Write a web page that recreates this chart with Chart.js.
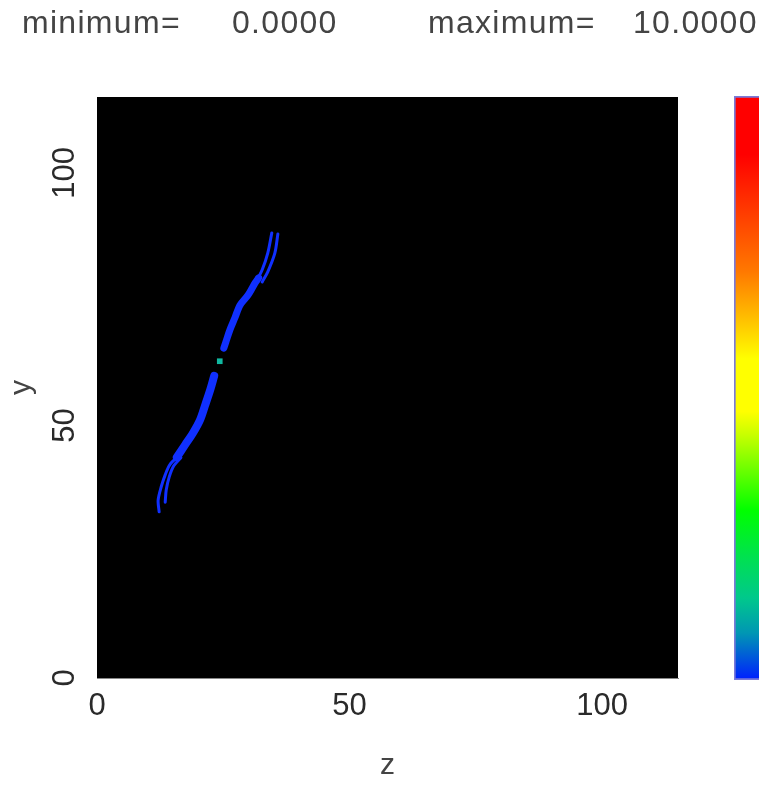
<!DOCTYPE html>
<html lang="en">
<head>
    <meta charset="UTF-8">
    <title>minimum / maximum map</title>
    <script src="https://cdn.jsdelivr.net/npm/chart.js"></script>
    <style>
        body {
            margin: 0;
            background: white;
            font-family: "Liberation Sans", Arial, sans-serif;
        }
        #wrap {
            position: relative;
            width: 759px;
            height: 786px;
            overflow: hidden;
        }
        .head {
            position: absolute;
            top: 4px;
            font-size: 32px;
            letter-spacing: 1.3px;
            color: #444;
            white-space: pre;
        }
        #barWrap {
            position: absolute;
            left: 734px;
            top: 96px;
        }
    </style>
</head>
<body>
<div id="wrap">
    <span class="head" id="minLabel" style="left:22px">minimum=</span>
    <span class="head" id="minValue" style="left:232px"></span>
    <span class="head" id="maxLabel" style="left:428px">maximum=</span>
    <span class="head" id="maxValue" style="left:633px"></span>
    <canvas id="mapChart" width="759" height="786"></canvas>
    <div id="barWrap"><canvas id="colorBar" width="40" height="584"></canvas></div>
</div>

<script>
    // axis range and ticks
    const axisMin = 0;
    const axisMax = 115;
    const tickStep = 50;
    const colorMin = 0;
    const colorMax = 10;

    // upper split strands (z, y)
    const upperLeftZ = [34.6, 33.8, 32.7, 31.7];
    const upperLeftY = [88.1, 84.1, 80.8, 78.8];
    const upperRightZ = [35.8, 35.2, 33.8, 32.7];
    const upperRightY = [87.9, 84.1, 80.4, 78.4];

    // upper thick band
    const upperBandZ = [32.0, 31.3, 29.9, 28.3, 27.3, 26.3, 25.5, 25.1];
    const upperBandY = [79.2, 78.2, 75.8, 73.8, 71.3, 68.9, 66.5, 65.3];

    // hot spot in the middle
    const coreZ = [24.3];
    const coreY = [62.7];

    // lower thick band
    const lowerBandZ = [23.2, 22.4, 21.4, 20.4, 19.0, 17.4, 15.8];
    const lowerBandY = [59.8, 57.0, 54.0, 51.1, 48.5, 46.1, 43.7];

    // lower split strands
    const lowerOuterZ = [16.2, 14.4, 13.5, 12.7, 12.1, 12.3];
    const lowerOuterY = [44.0, 42.2, 40.2, 37.8, 35.2, 32.9];
    const lowerInnerZ = [16.6, 15.2, 14.3, 13.7, 13.5];
    const lowerInnerY = [43.6, 42.0, 39.8, 37.2, 34.8];

    const blue = '#1030ff';
    const tickFont = { family: '"Liberation Sans", Arial, sans-serif', size: 31 };
    const titleFont = { family: '"Liberation Sans", Arial, sans-serif', size: 30 };

    document.getElementById('minValue').textContent = colorMin.toFixed(4);
    document.getElementById('maxValue').textContent = colorMax.toFixed(4);

    function toPoints(zs, ys) {
        return zs.map((z, i) => ({ x: z, y: ys[i] }));
    }

    function curve(zs, ys, width) {
        return {
            data: toPoints(zs, ys),
            showLine: true,
            borderColor: blue,
            borderWidth: width,
            borderCapStyle: 'round',
            borderJoinStyle: 'round',
            tension: 0.3,
            pointRadius: 0
        };
    }

    // black plot background
    const blackArea = {
        id: 'blackArea',
        beforeDatasetsDraw(chart) {
            const { ctx, chartArea } = chart;
            ctx.save();
            ctx.fillStyle = 'black';
            ctx.fillRect(chartArea.left, chartArea.top, chartArea.right - chartArea.left, chartArea.bottom - chartArea.top);
            ctx.restore();
        }
    };

    new Chart(document.getElementById('mapChart'), {
        type: 'scatter',
        data: {
            datasets: [
                curve(upperLeftZ, upperLeftY, 3),
                curve(upperRightZ, upperRightY, 3),
                curve(upperBandZ, upperBandY, 7),
                curve(lowerBandZ, lowerBandY, 8),
                curve(lowerOuterZ, lowerOuterY, 3),
                curve(lowerInnerZ, lowerInnerY, 3),
                {
                    data: toPoints(coreZ, coreY),
                    pointStyle: 'rect',
                    pointRadius: 4,
                    backgroundColor: '#10b8a0',
                    borderWidth: 0
                },
                {
                    data: toPoints(coreZ, coreY),
                    pointStyle: 'rect',
                    pointRadius: 2.2,
                    backgroundColor: '#f0b000',
                    borderWidth: 0
                }
            ]
        },
        options: {
            responsive: false,
            animation: false,
            layout: { padding: { top: 97, right: 81, left: 0, bottom: 0 } },
            plugins: {
                legend: { display: false },
                tooltip: { enabled: false }
            },
            scales: {
                x: {
                    min: axisMin,
                    max: axisMax,
                    grid: { display: false, drawTicks: false },
                    border: { display: true, color: '#888' },
                    ticks: {
                        stepSize: tickStep,
                        includeBounds: false,
                        font: tickFont,
                        color: '#2a2a2a',
                        padding: 10,
                        maxRotation: 0
                    },
                    title: { display: true, text: 'z', font: titleFont, color: '#444', padding: { top: 0, bottom: 2 } },
                    afterFit: s => { s.height = 108; }
                },
                y: {
                    min: axisMin,
                    max: axisMax,
                    grid: { display: false, drawTicks: false },
                    border: { display: false },
                    ticks: {
                        stepSize: tickStep,
                        includeBounds: false,
                        font: tickFont,
                        color: '#2a2a2a',
                        padding: 6,
                        minRotation: 90,
                        maxRotation: 90,
                        crossAlign: 'center'
                    },
                    title: { display: true, text: 'y', font: titleFont, color: '#444', padding: { top: 4, bottom: 0 } },
                    afterFit: s => { s.width = 97; }
                }
            }
        },
        plugins: [blackArea]
    });

    // colour bar
    const colorStops = [
        [0.00, 'rgb(0,30,255)'],
        [0.08, 'rgb(0,150,180)'],
        [0.14, 'rgb(0,200,140)'],
        [0.21, 'rgb(0,225,80)'],
        [0.29, 'rgb(0,255,0)'],
        [0.42, 'rgb(200,255,0)'],
        [0.46, 'rgb(255,255,0)'],
        [0.55, 'rgb(255,255,0)'],
        [0.62, 'rgb(255,190,0)'],
        [0.70, 'rgb(255,120,0)'],
        [0.80, 'rgb(255,60,0)'],
        [0.90, 'rgb(255,0,0)'],
        [1.00, 'rgb(255,0,0)']
    ];

    new Chart(document.getElementById('colorBar'), {
        type: 'bar',
        data: {
            labels: [''],
            datasets: [{
                data: [[colorMin, colorMax]],
                backgroundColor: ctx => {
                    const area = ctx.chart.chartArea;
                    if (!area) return blue;
                    const g = ctx.chart.ctx.createLinearGradient(0, area.bottom, 0, area.top);
                    colorStops.forEach(([t, c]) => g.addColorStop(t, c));
                    return g;
                },
                borderColor: '#7a7ad8',
                borderWidth: 2,
                borderSkipped: false,
                barPercentage: 1,
                categoryPercentage: 1
            }]
        },
        options: {
            responsive: false,
            animation: false,
            plugins: { legend: { display: false }, tooltip: { enabled: false } },
            scales: {
                x: { display: false },
                y: { display: false, min: colorMin, max: colorMax }
            }
        }
    });
</script>
</body>
</html>
